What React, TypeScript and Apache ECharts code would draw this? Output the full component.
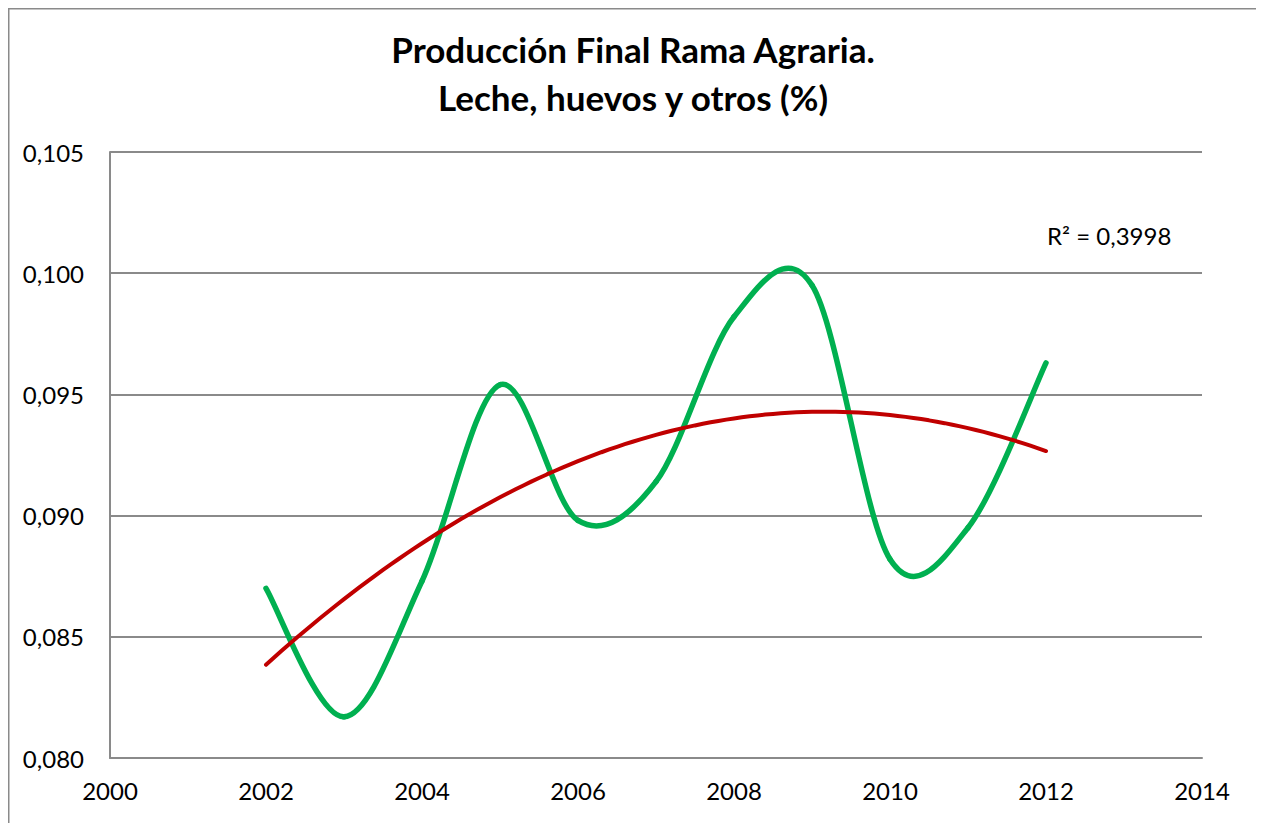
import React, { useEffect, useRef } from "react";
import * as echarts from "echarts";

const years = [2002, 2003, 2004, 2005, 2006, 2007, 2008, 2009, 2010, 2011, 2012];
const values = [0.087, 0.0817, 0.0873, 0.0954, 0.0898, 0.0914, 0.0982, 0.0995, 0.0882, 0.0895, 0.0963];
const titleLines = ["Producción Final Rama Agraria.", "Leche, huevos y otros (%)"];
const r2Label = "R² = 0,3998";

// quadratic least-squares fit (Excel polynomial trendline, order 2)
function quadFit(xs: number[], ys: number[]) {
  const x0 = xs[0];
  const n = xs.length;
  const s = [0, 0, 0, 0, 0];
  const t = [0, 0, 0];
  for (let i = 0; i < n; i++) {
    const x = xs[i] - x0;
    for (let k = 0; k < 5; k++) s[k] += Math.pow(x, k);
    for (let k = 0; k < 3; k++) t[k] += ys[i] * Math.pow(x, k);
  }
  const M = [
    [s[0], s[1], s[2], t[0]],
    [s[1], s[2], s[3], t[1]],
    [s[2], s[3], s[4], t[2]],
  ];
  for (let i = 0; i < 3; i++) {
    for (let j = i + 1; j < 3; j++) {
      const f = M[j][i] / M[i][i];
      for (let k = i; k < 4; k++) M[j][k] -= f * M[i][k];
    }
  }
  const c = [0, 0, 0];
  for (let i = 2; i >= 0; i--) {
    let v = M[i][3];
    for (let k = i + 1; k < 3; k++) v -= M[i][k] * c[k];
    c[i] = v / M[i][i];
  }
  return (x: number) => c[0] + c[1] * (x - x0) + c[2] * (x - x0) * (x - x0);
}

export default function App() {
  const ref = useRef<HTMLDivElement>(null);
  useEffect(() => {
    if (!ref.current) return;
    const chart = echarts.init(ref.current, undefined, { renderer: "svg" });
    const f = quadFit(years, values);
    const trend: number[][] = [];
    const first = years[0];
    const last = years[years.length - 1];
    const steps = 100;
    for (let i = 0; i <= steps; i++) {
      const x = first + ((last - first) * i) / steps;
      trend.push([x, f(x)]);
    }
    const pts = years.map((y, i) => [y, values[i]]);
    const n = pts.length;
    const font = "Lato, 'Open Sans', sans-serif";
    chart.setOption({
      animation: false,
      backgroundColor: "#ffffff",
      grid: { left: 102, top: 144, right: 56, bottom: 80, containLabel: false },
      xAxis: {
        type: "value",
        min: 2000,
        max: 2014,
        interval: 2,
        axisLine: { show: true, lineStyle: { color: "#8a8a8a", width: 2 } },
        axisTick: { show: false },
        splitLine: { show: false },
        axisLabel: { color: "#000", fontSize: 24, fontFamily: font, margin: 20, formatter: (v: number) => String(v) },
      },
      yAxis: {
        type: "value",
        min: 0.08,
        max: 0.105,
        interval: 0.005,
        axisLine: { show: true, lineStyle: { color: "#8a8a8a", width: 2 } },
        axisTick: { show: false },
        splitLine: { show: true, lineStyle: { color: "#8a8a8a", width: 2 } },
        axisLabel: {
          color: "#000",
          fontSize: 24,
          fontFamily: font,
          margin: 26,
          formatter: (v: number) => v.toFixed(3).replace(".", ","),
        },
      },
      graphic: [
        {
          type: "rect",
          shape: { x: 0.5, y: 0.5, width: 1249, height: 900 },
          style: { fill: "none", stroke: "#8a8a8a", lineWidth: 2 },
          silent: true,
        },
        {
          type: "text",
          left: "center",
          top: 17,
          style: {
            text: titleLines.join("\n"),
            font: `bold 35px ${font}`,
            fill: "#000",
            textAlign: "center",
            lineHeight: 48,
          },
        },
        {
          type: "text",
          x: 1039,
          y: 227,
          style: { text: r2Label, font: `24px ${font}`, fill: "#000", verticalAlign: "middle" },
        },
      ],
      series: [
        {
          type: "custom",
          coordinateSystem: "cartesian2d",
          data: pts,
          encode: { x: 0, y: 1 },
          z: 2,
          renderItem: (params: any, api: any) => {
            const i = params.dataIndex;
            if (i >= n - 1) return { type: "group", children: [] };
            const p1 = api.coord(pts[i]);
            const p2 = api.coord(pts[i + 1]);
            const p0 = i > 0 ? api.coord(pts[i - 1]) : p1;
            const p3 = i + 2 < n ? api.coord(pts[i + 2]) : p2;
            return {
              type: "bezierCurve",
              shape: {
                x1: p1[0],
                y1: p1[1],
                x2: p2[0],
                y2: p2[1],
                cpx1: p1[0] + (p2[0] - p0[0]) / 6,
                cpy1: p1[1] + (p2[1] - p0[1]) / 6,
                cpx2: p2[0] - (p3[0] - p1[0]) / 6,
                cpy2: p2[1] - (p3[1] - p1[1]) / 6,
              },
              style: { stroke: "#00b050", lineWidth: 5.5, fill: "none", lineCap: "round" },
            };
          },
        },
        {
          type: "line",
          data: trend,
          smooth: false,
          symbol: "none",
          lineStyle: { color: "#c00000", width: 4, cap: "round" },
          z: 3,
        },
      ],
    });
    return () => chart.dispose();
  }, []);
  return <div ref={ref} style={{ width: 1250, height: 830 }} />;
}
